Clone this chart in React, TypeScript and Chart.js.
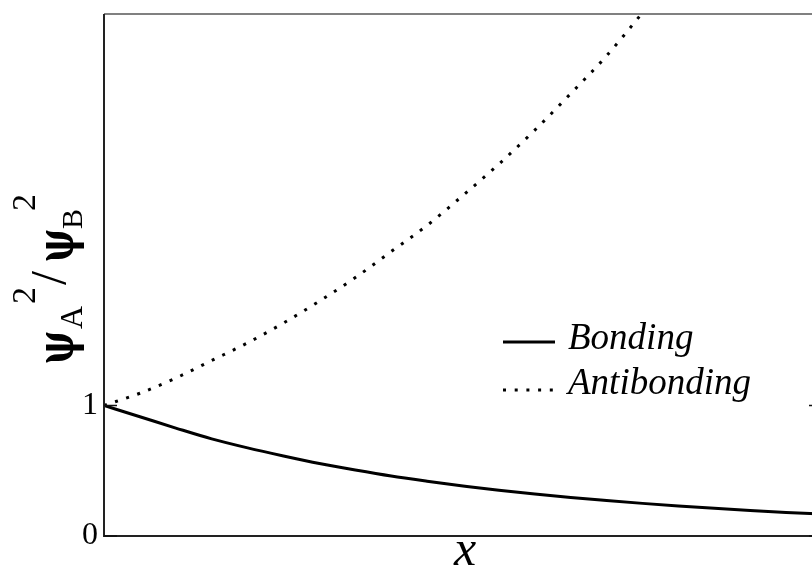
import { useEffect, useRef } from "react";
import { Chart, registerables } from "chart.js";

Chart.register(...registerables);

// Separation coordinate (arbitrary units, left edge to right edge of the frame)
const xValues = [
  0, 0.05, 0.1, 0.15, 0.2, 0.25, 0.3, 0.35, 0.4, 0.45, 0.5,
  0.55, 0.6, 0.65, 0.7, 0.75, 0.8, 0.85, 0.9, 0.95, 1,
];

// psi_A^2 / psi_B^2 for the bonding orbital
const bondingValues = [
  1.0, 0.914, 0.827, 0.744, 0.675, 0.613, 0.555, 0.505, 0.459, 0.42, 0.384,
  0.35, 0.321, 0.295, 0.272, 0.25, 0.23, 0.212, 0.196, 0.181, 0.168,
];

// psi_A^2 / psi_B^2 for the antibonding orbital
const antibondingValues = [
  1.0, 1.094, 1.21, 1.345, 1.48, 1.632, 1.8, 1.98, 2.18, 2.38, 2.61,
  2.85, 3.11, 3.39, 3.68, 4.01, 4.35, 4.72, 5.1, 5.52, 5.95,
];

const yTickValues = [0, 1];
const seriesLabels = ["Bonding", "Antibonding"];
const xAxisLabel = "x";

const CANVAS_W = 830;
const CANVAS_H = 567;
const SERIF = '"Liberation Serif", "Times New Roman", serif';
const PSI_FONT = `bold 40px "DejaVu Serif"`;
const DOT_DASH = [3, 8.7];

// pieces of the rotated y-axis label: text, font, position along the axis,
// baseline offset, and a stretch factor (along, across)
const yLabelPieces = [
  { text: "\u03C8", font: PSI_FONT, along: 364, base: 73, sx: 0.88, sy: 1.3 },
  { text: "A", font: `32px ${SERIF}`, along: 329, base: 82, sx: 1, sy: 1 },
  { text: "2", font: `34px ${SERIF}`, along: 304, base: 35, sx: 1, sy: 1 },
  { text: "/", font: `50px ${SERIF}`, along: 285, base: 65, sx: 1, sy: 1 },
  { text: "\u03C8", font: PSI_FONT, along: 262, base: 73, sx: 0.88, sy: 1.3 },
  { text: "B", font: `30px ${SERIF}`, along: 229, base: 82, sx: 1, sy: 1 },
  { text: "2", font: `34px ${SERIF}`, along: 211, base: 35, sx: 1, sy: 1 },
];

const decorPlugin = {
  id: "decor",
  afterDatasetsDraw(chart: any) {
    const { ctx, chartArea } = chart;
    const { left, right, top, bottom } = chartArea;
    const yScale = chart.scales.y;
    ctx.save();

    // frame
    ctx.lineWidth = 2;
    ctx.strokeStyle = "#808080";
    ctx.beginPath();
    ctx.moveTo(left, top);
    ctx.lineTo(right, top);
    ctx.stroke();
    ctx.strokeStyle = "#222";
    ctx.beginPath();
    ctx.moveTo(left, top);
    ctx.lineTo(left, bottom);
    ctx.lineTo(right, bottom);
    ctx.lineTo(right, top);
    ctx.stroke();

    // inward tick marks on both vertical axes
    ctx.lineWidth = 1.5;
    ctx.strokeStyle = "#111";
    for (const v of yTickValues) {
      const py = yScale.getPixelForValue(v);
      ctx.beginPath();
      ctx.moveTo(left, py);
      ctx.lineTo(left + 13, py);
      ctx.moveTo(right, py);
      ctx.lineTo(right - 13, py);
      ctx.stroke();
    }

    // legend
    const ds = chart.data.datasets;
    const legendX = 503;
    const sampleW = 52;
    const rows = [342, 390];
    ctx.fillStyle = "#000";
    ctx.textBaseline = "alphabetic";
    ctx.textAlign = "left";
    ctx.font = `italic 37px ${SERIF}`;
    ds.forEach((d: any, i: number) => {
      const ry = rows[i];
      ctx.lineWidth = d.borderWidth;
      ctx.strokeStyle = d.borderColor;
      ctx.setLineDash(d.borderDash || []);
      ctx.beginPath();
      ctx.moveTo(legendX, ry);
      ctx.lineTo(legendX + sampleW, ry);
      ctx.stroke();
      ctx.setLineDash([]);
      ctx.fillText(d.label, 568, ry + (i === 0 ? 7 : 4));
    });

    // x-axis label
    ctx.font = `italic 50px ${SERIF}`;
    ctx.textAlign = "center";
    ctx.fillText(xAxisLabel, 465, 565);

    // y-axis label (rotated)
    ctx.rotate(-Math.PI / 2);
    ctx.textAlign = "left";
    for (const p of yLabelPieces) {
      ctx.save();
      ctx.translate(-p.along, p.base);
      ctx.scale(p.sx, p.sy);
      ctx.font = p.font;
      ctx.fillText(p.text, 0, 0);
      ctx.restore();
    }

    ctx.restore();
  },
};

export default function App() {
  const canvasRef = useRef<HTMLCanvasElement | null>(null);

  useEffect(() => {
    const canvas = canvasRef.current;
    if (!canvas) return;
    const chart = new Chart(canvas, {
      type: "line",
      data: {
        labels: xValues,
        datasets: [
          {
            label: seriesLabels[0],
            data: xValues.map((x, i) => ({ x, y: bondingValues[i] })),
            borderColor: "#000",
            borderWidth: 3,
            pointRadius: 0,
            cubicInterpolationMode: "monotone",
            fill: false,
          },
          {
            label: seriesLabels[1],
            data: xValues.map((x, i) => ({ x, y: antibondingValues[i] })),
            borderColor: "#000",
            borderWidth: 3,
            borderDash: DOT_DASH,
            pointRadius: 0,
            cubicInterpolationMode: "monotone",
            fill: false,
          },
        ],
      },
      options: {
        animation: false,
        responsive: false,
        devicePixelRatio: 1,
        layout: { padding: { left: 0, top: 14, right: CANVAS_W - 822, bottom: CANVAS_H - 536 } },
        plugins: { legend: { display: false }, tooltip: { enabled: false } },
        scales: {
          x: { type: "linear", min: 0, max: 1, display: false },
          y: {
            type: "linear",
            min: 0,
            max: 4,
            grid: { display: false, drawTicks: false },
            border: { display: false },
            ticks: {
              color: "#000",
              padding: 6,
              font: { family: SERIF, size: 32 },
            },
            afterBuildTicks: (scale: any) => {
              scale.ticks = yTickValues.map((value) => ({ value }));
            },
            afterFit: (scale: any) => {
              scale.width = 104;
              scale.paddingTop = 0;
              scale.paddingBottom = 0;
            },
          },
        },
      },
      plugins: [decorPlugin],
    });
    return () => chart.destroy();
  }, []);

  return (
    <div style={{ position: "fixed", inset: 0, overflow: "hidden", background: "#fff" }}>
      <canvas
        ref={canvasRef}
        width={CANVAS_W}
        height={CANVAS_H}
        style={{ position: "absolute", left: 0, top: 0, width: CANVAS_W, height: CANVAS_H }}
      />
    </div>
  );
}
